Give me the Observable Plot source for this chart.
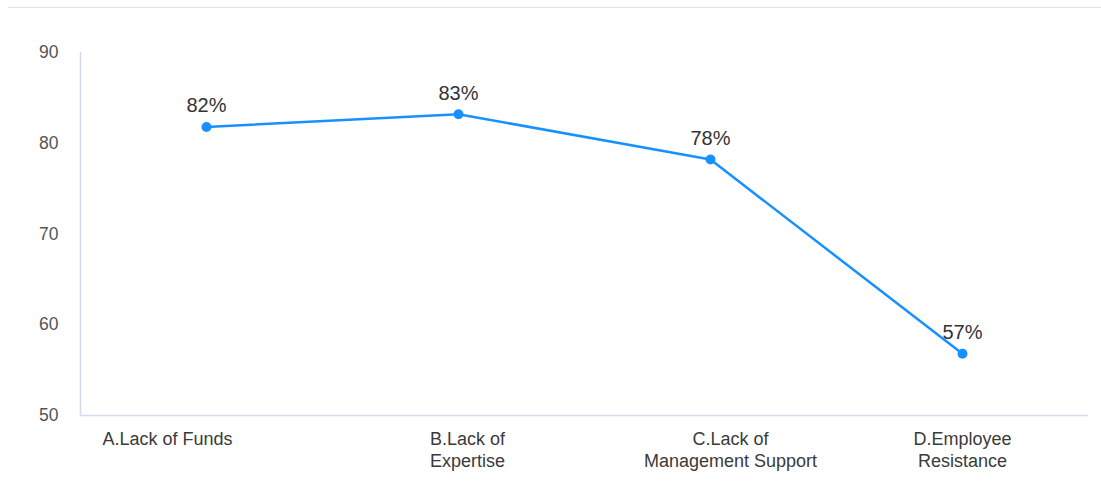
<!DOCTYPE html>
<html>
<head>
<meta charset="utf-8">
<script src="https://cdn.jsdelivr.net/npm/d3@7"></script>
<script src="https://cdn.jsdelivr.net/npm/@observablehq/plot@0.6"></script>
<style>
  html, body { margin: 0; padding: 0; background: #fff; }
  #wrap { position: relative; width: 1101px; height: 492px; }
  #topline { position: absolute; left: 8px; right: 0; top: 7px; height: 1px; background: #e3e3e3; }
</style>
</head>
<body>
<div id="wrap"><div id="topline"></div></div>
<script>
const categories = ["A.Lack of Funds", "B.Lack of\nExpertise", "C.Lack of\nManagement Support", "D.Employee\nResistance"];
const values = [81.8, 83.2, 78.2, 56.8];
const valueLabels = ["82%", "83%", "78%", "57%"];
const yTicks = [50, 60, 70, 80, 90];

const data = categories.map((c, i) => ({cat: c, v: values[i], label: valueLabels[i]}));
const font = "'Liberation Sans', Arial, sans-serif";

// horizontal nudges of the category labels, as placed in the reference
const labelShift = [-39, 9, 20, 0];

const chart = Plot.plot({
  width: 1101,
  height: 492,
  marginLeft: 80,
  marginRight: 13,
  marginTop: 52,
  marginBottom: 77,
  style: {fontFamily: font, background: "transparent"},
  x: {type: "point", domain: categories, padding: 0.5, axis: null},
  y: {domain: [50, 90], axis: null},
  marks: [
    Plot.frame({anchor: "left", stroke: "#d3dcea", strokeWidth: 1.5}),
    Plot.ruleY([50], {stroke: "#d3dcea", strokeWidth: 1.5}),
    Plot.axisY({ticks: yTicks, tickSize: 0, tickPadding: 22, fontSize: 17.5, fill: "#555", label: null}),
    ...categories.map((c, i) => Plot.text([c], {
      x: d => d, frameAnchor: "bottom", lineAnchor: "top", dy: 14, dx: labelShift[i],
      text: d => d, fontSize: 18, lineHeight: 1.22, fill: "#3a3a3a"
    })),
    Plot.line(data, {x: "cat", y: "v", stroke: "#1890ff", strokeWidth: 2.5}),
    Plot.dot(data, {x: "cat", y: "v", r: 5, fill: "#1890ff"}),
    Plot.text(data, {x: "cat", y: "v", text: "label", dy: -21, fontSize: 20, fill: "#333"})
  ]
});
document.getElementById("wrap").appendChild(chart);
chart.style.position = "absolute";
chart.style.left = "0";
chart.style.top = "0";
</script>
</body>
</html>
